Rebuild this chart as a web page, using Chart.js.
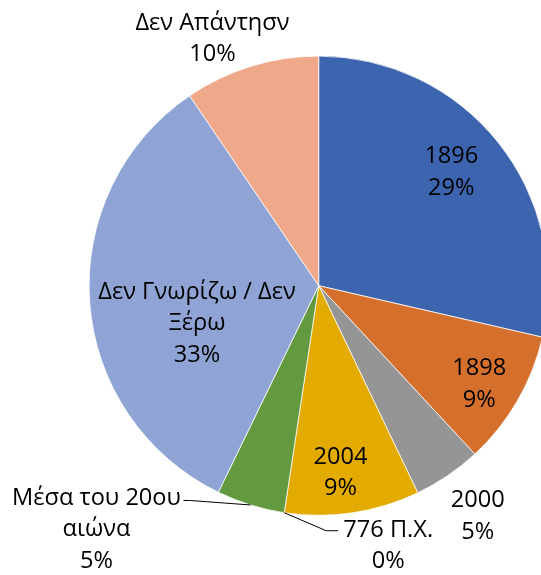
<!DOCTYPE html>
<html>
<head>
<meta charset="utf-8">
<script src="https://cdn.jsdelivr.net/npm/chart.js@4"></script>
<style>
  html, body { margin: 0; padding: 0; background: #fff; overflow: hidden; }
  #wrap { position: relative; width: 570px; height: 575px; }
</style>
</head>
<body>
<div id="wrap"><canvas id="pie"></canvas></div>
<script>
// ----- data -----
const categories = ['1896', '1898', '2000', '2004', '776 Π.Χ.', 'Μέσα του 20ου αιώνα', 'Δεν Γνωρίζω / Δεν Ξέρω', 'Δεν Απάντησν'];
const shares = [28.6, 9.5, 4.8, 9.5, 0, 4.8, 33.3, 9.5];          // slice size (%)
const shownPct = ['29%', '9%', '5%', '9%', '0%', '5%', '33%', '10%']; // printed labels
const labelLines = [['1896'], ['1898'], ['2000'], ['2004'], ['776 Π.Χ.'], ['Μέσα του 20ου', 'αιώνα'], ['Δεν Γνωρίζω / Δεν', 'Ξέρω'], ['Δεν Απάντησν']];

const colors = ['#3D65AF', '#D5702C', '#959595', '#E3AB00', '#5A8FC8', '#639A3F', '#8FA4D5', '#F0A88A'];

// label placement: inside/outside -> polar tweak, leader -> offsets from arc edge
const place = [
  { frac: 0.76, da: -2 },
  { frac: 0.82, da: 1.5 },
  { frac: 1.22, da: -0.4 },
  { frac: 0.82, da: 1.8 },
  { leader: true, text: [104, 33], elbow: [42, 18], end: [54, 18] },
  { leader: true, text: [-154, 24.5], elbow: [-61, -4.5], end: [-67, -4.5] },
  { frac: 0.555, da: -13.2 },
  { frac: 1.17, da: -6.2 },
];

const FONT = '23.6px "Open Sans", "Noto Sans", sans-serif';
const LINE_H = 31.5;

// ----- plugin que desenha os rótulos -----
const pieLabels = {
  id: 'pieLabels',
  afterDatasetsDraw(chart) {
    const ctx = chart.ctx;
    const arcs = chart.getDatasetMeta(0).data;
    ctx.save();
    ctx.font = FONT;
    ctx.fillStyle = '#000';
    ctx.textAlign = 'center';
    ctx.textBaseline = 'middle';
    arcs.forEach((arc, i) => {
      const p = arc.getProps(['x', 'y', 'startAngle', 'endAngle', 'outerRadius'], true);
      const mid = (p.startAngle + p.endAngle) / 2;
      const lines = labelLines[i].concat([shownPct[i]]);
      const cfg = place[i];
      let tx, ty;
      if (cfg.leader) {
        const ex = p.x + p.outerRadius * Math.cos(mid);
        const ey = p.y + p.outerRadius * Math.sin(mid);
        ctx.beginPath();
        ctx.strokeStyle = '#000';
        ctx.lineWidth = 1;
        ctx.moveTo(ex, ey);
        ctx.lineTo(ex + cfg.elbow[0], ey + cfg.elbow[1]);
        ctx.lineTo(ex + cfg.end[0], ey + cfg.end[1]);
        ctx.stroke();
        tx = ex + cfg.text[0];
        ty = ey + cfg.text[1];
      } else {
        const a = mid + cfg.da * Math.PI / 180;
        tx = p.x + p.outerRadius * cfg.frac * Math.cos(a);
        ty = p.y + p.outerRadius * cfg.frac * Math.sin(a);
      }
      const top = ty - (lines.length - 1) * LINE_H / 2;
      lines.forEach((s, k) => ctx.fillText(s, tx, top + k * LINE_H));
    });
    ctx.restore();
  }
};

new Chart(document.getElementById('pie'), {
  type: 'pie',
  data: {
    labels: categories,
    datasets: [{
      data: shares,
      backgroundColor: colors,
      borderColor: '#fff',
      borderWidth: 0.75,
    }],
  },
  options: {
    responsive: true,
    maintainAspectRatio: false,
    animation: false,
    layout: { padding: { left: 88.7, right: 21.3, top: 55.7, bottom: 59.3 } },
    plugins: {
      legend: { display: false },
      tooltip: { enabled: false },
    },
  },
  plugins: [pieLabels],
});
</script>
</body>
</html>
